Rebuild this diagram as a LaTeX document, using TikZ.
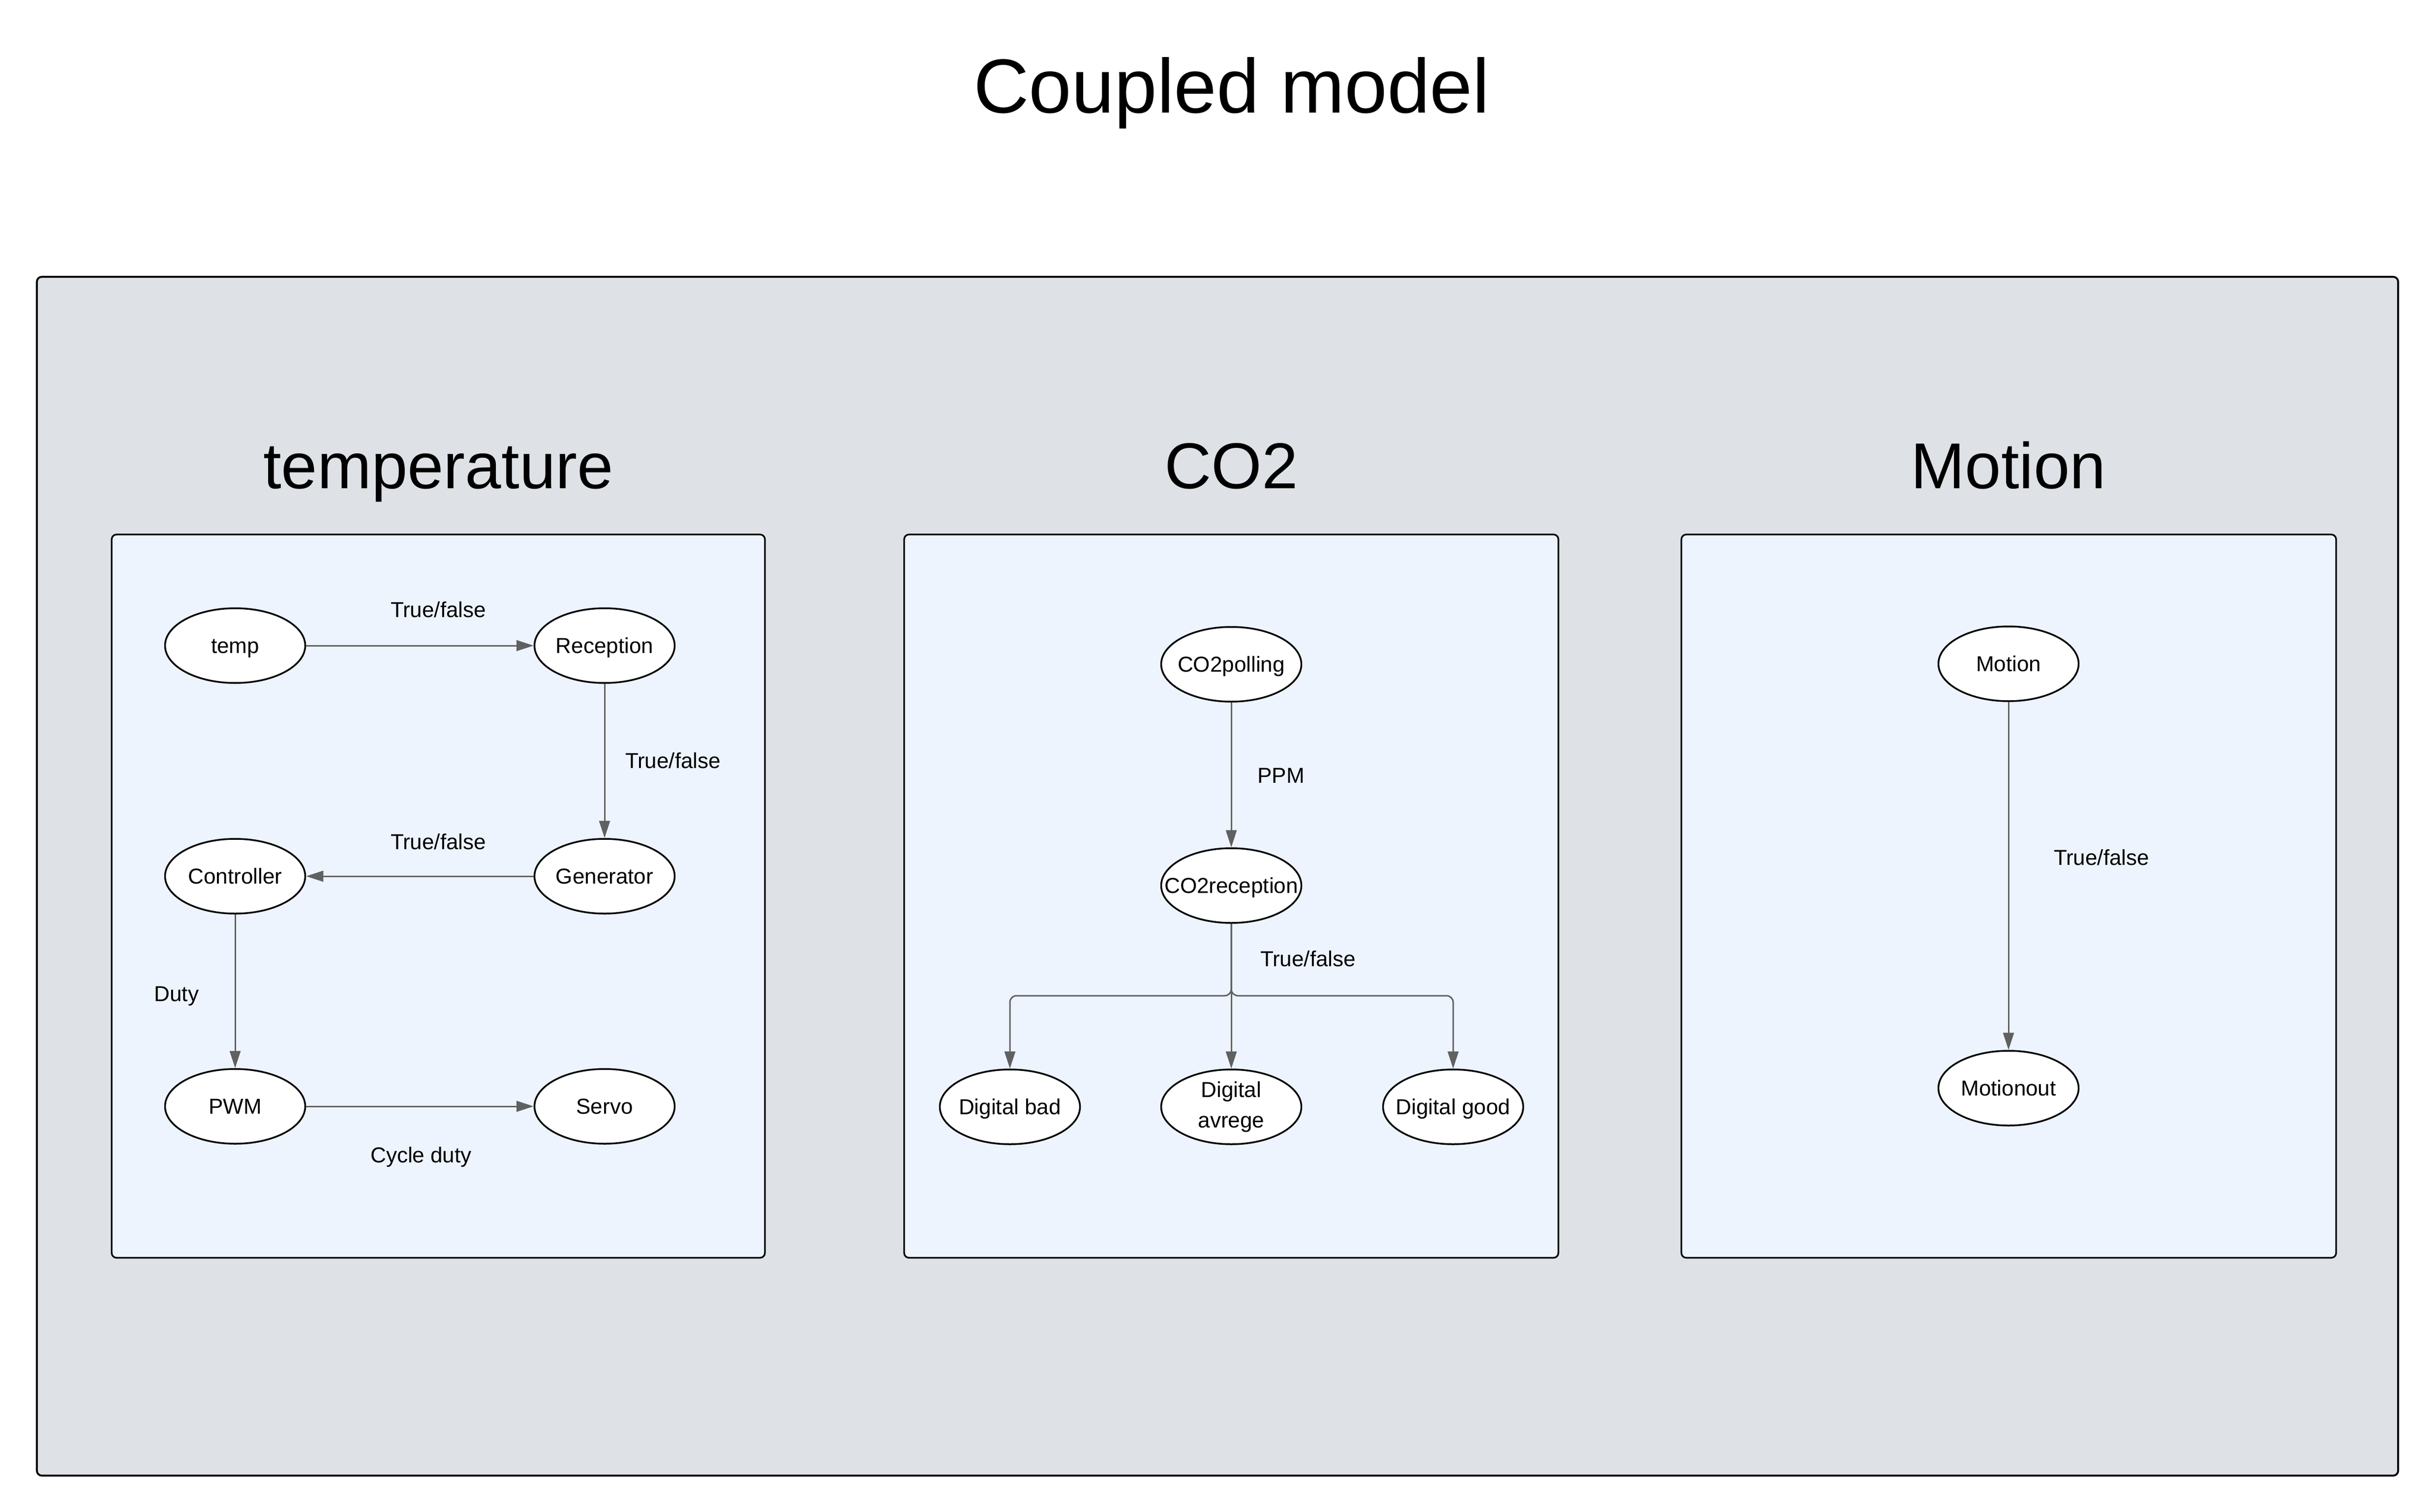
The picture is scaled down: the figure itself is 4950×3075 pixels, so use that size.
\documentclass[tikz,border=0pt]{standalone}
\usepackage{fontspec}
\setmainfont{Liberation Sans}
\usetikzlibrary{shapes.geometric,arrows.meta}
\definecolor{outerfill}{RGB}{222,226,231}
\definecolor{panelfill}{RGB}{237,244,254}
\definecolor{linkgray}{RGB}{96,96,96}
\begin{document}
\begin{tikzpicture}[x=0.3pt,y=-0.3pt,
  statenode/.style={ellipse,draw=black,line width=1.05pt,fill=white,
    minimum width=85.5pt,minimum height=45.6pt,inner xsep=-15pt,inner ysep=0pt,
    font=\fontsize{13.2}{18.4}\selectfont},
  capcenter/.style={text height=9.4pt,text depth=0pt},
  link/.style={draw=linkgray,line width=0.9pt,-{Triangle[length=10.5pt,width=6.6pt]}},
  edgelabel/.style={font=\fontsize{13.2}{16}\selectfont,anchor=base,inner sep=0pt},
  panelbox/.style={draw=black,line width=1pt,fill=panelfill,rounded corners=3pt},
  outerbox/.style={draw=black,line width=1.15pt,fill=outerfill,rounded corners=3pt},
  paneltitle/.style={font=\fontsize{39.6}{44}\selectfont,anchor=base,inner sep=0pt},
  maintitle/.style={font=\fontsize{46.8}{52}\selectfont,anchor=base,inner sep=0pt}
]
\useasboundingbox (0,0) rectangle (4950,3075);
\fill[white] (0,0) rectangle (4950,3075);

% title
\node[maintitle] (title) at (2504,230) {Coupled model};

% outer container
\draw[outerbox] (75,563) rectangle (4875,3001);

% panels
\draw[panelbox] (227,1087) rectangle (1555,2558);
\draw[panelbox] (1838,1087) rectangle (3168,2558);
\draw[panelbox] (3418,1087) rectangle (4749,2558);

% panel titles
\node[paneltitle] (ttemp) at (891,993) {temperature};
\node[paneltitle] (tco2) at (2503,993) {CO2};
\node[paneltitle] (tmot) at (4083,993) {Motion};

% temperature nodes
\node[statenode,capcenter] (temp) at (478,1313) {temp};
\node[statenode,capcenter] (rec) at (1229,1313) {Reception};
\node[statenode,capcenter] (ctrl) at (478,1782) {Controller};
\node[statenode,capcenter] (gen) at (1229,1782) {Generator};
\node[statenode,capcenter] (pwm) at (478,2250) {PWM};
\node[statenode,capcenter] (servo) at (1229,2250) {Servo};

% CO2 nodes
\node[statenode,capcenter] (co2p) at (2503,1351) {CO2polling};
\node[statenode,capcenter] (co2r) at (2503,1801) {CO2reception};
\node[statenode,capcenter] (dbad) at (2053,2251) {Digital bad};
\node[statenode,align=center] (davg) at (2503,2251) {Digital\\avrege};
\node[statenode,capcenter] (dgood) at (2954,2251) {Digital good};

% Motion nodes
\node[statenode,capcenter] (mot) at (4083,1350) {Motion};
\node[statenode,capcenter] (motout) at (4083,2213) {Motionout};

% temperature connectors
\draw[link] (temp) -- (rec);
\draw[link] (rec) -- (gen);
\draw[link] (gen) -- (ctrl);
\draw[link] (ctrl) -- (pwm);
\draw[link] (pwm) -- (servo);

% CO2 connectors
\coordinate (split) at (2503,2025);
\draw[link] (co2p) -- (co2r);
\draw[link] (co2r) -- (davg);
\draw[link,rounded corners=4pt] (co2r.south) -- (split) -| (dbad.north);
\draw[link,rounded corners=4pt] (co2r.south) -- (split) -| (dgood.north);

% Motion connector
\draw[link] (mot) -- (motout);

% labels
\node[edgelabel] (l1) at (891,1255) {True/false};
\node[edgelabel] (l2) at (1368,1562) {True/false};
\node[edgelabel] (l3) at (891,1727) {True/false};
\node[edgelabel] (l4) at (359,2036) {Duty};
\node[edgelabel] (l5) at (856,2364) {Cycle duty};
\node[edgelabel] (l6) at (2604,1592) {PPM};
\node[edgelabel] (l7) at (2659,1965) {True/false};
\node[edgelabel] (l8) at (4272,1759) {True/false};
\end{tikzpicture}
\end{document}
